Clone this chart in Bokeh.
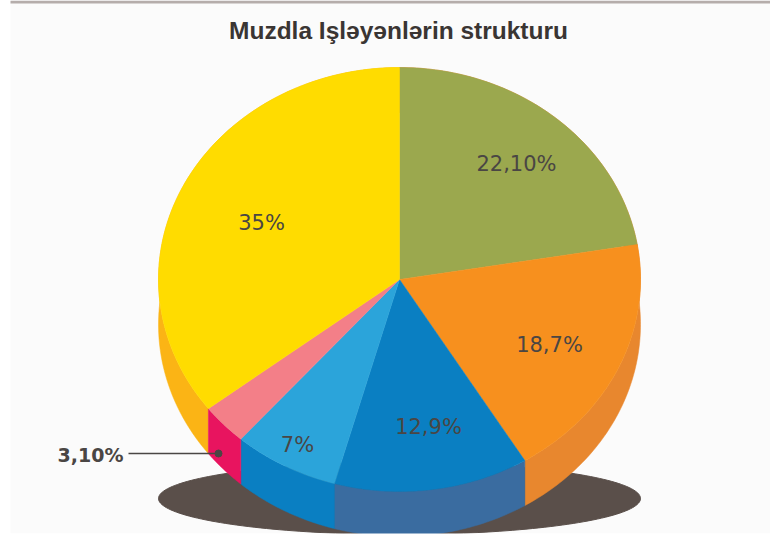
import numpy as np
from bokeh.plotting import figure
from bokeh.models import Range1d
from bokeh.core.properties import value
from bokeh.embed import file_html
from bokeh.resources import INLINE

title = "Muzdla Işləyənlərin strukturu"
shares = [22.1, 18.7, 12.9, 7.0, 3.1, 35.0]
labels = ["22,10%", "18,7%", "12,9%", "7%", "", "35%"]
top_colors = ["#9ba84e", "#f7901e", "#0a7fc2", "#2ba4da", "#f37f88", "#ffdc00"]
side_colors = ["#e8872e", "#e8872e", "#3a6ca0", "#0a7fc2", "#e8145f", "#fbb415"]
outside_label = "3,10%"

# page pixel -> data space (pie top face is the unit circle)
CX, CY, RX, RY = 399.0, 279.0, 241.0, 212.0
DEPTH = 45.0 / RY
X = lambda px: (px - CX) / RX
Y = lambda py: (CY - py) / RY

p = figure(width=770, height=540, output_backend="svg", toolbar_location=None,
           x_range=Range1d(X(0), X(770)), y_range=Range1d(Y(540), Y(0)),
           min_border=0, outline_line_color=None, background_fill_color="#ffffff",
           border_fill_color="#ffffff")
p.axis.visible = False
p.grid.visible = False

# paper tone and the rule along the top edge
p.quad(left=[X(10)], right=[X(770)], bottom=[Y(533)], top=[Y(0)], color="#fbfbfb", line_color=None)
p.quad(left=[X(10)], right=[X(770)], bottom=[Y(3)], top=[Y(0)], color="#b5adab", line_color=None)

# shadow under the pie
t = np.linspace(0, 2 * np.pi, 200)
p.patch(np.sin(t), Y(498) + 36 / RY * np.cos(t), color="#5a4f4a", line_color="#5a4f4a")

fractions = np.array(shares) / sum(shares)
edges = np.concatenate([[0], np.cumsum(fractions)]) * 2 * np.pi


def arc(a, b, n=80):
    t = np.linspace(a, b, n)
    return np.sin(t), np.cos(t)


# side wall
for i in [5, 0, 1, 2, 3, 4]:
    x, y = arc(edges[i], edges[i + 1])
    p.patch(np.r_[x, x[::-1]], np.r_[y, y[::-1] - DEPTH],
            color=side_colors[i], line_color=side_colors[i], line_width=0.5)

# top face
for i in range(len(shares)):
    x, y = arc(edges[i], edges[i + 1])
    p.patch(np.r_[0, x], np.r_[0, y], color=top_colors[i], line_color=top_colors[i], line_width=0.5)

# the picture is cut off flat along its bottom edge
p.quad(left=[X(0)], right=[X(770)], bottom=[Y(540)], top=[Y(533)], color="#ffffff", line_color=None)

# labels
label_px = [(516, 163), (549, 344), (428, 426), (297, 444), None, (261, 222)]
for s, pos in zip(labels, label_px):
    if pos:
        p.text([X(pos[0])], [Y(pos[1])], text=[s], text_align="center", text_baseline="middle",
               text_font=value("DejaVu Sans"), text_font_size="21px", text_color="#4a4644")

p.text([X(398)], [Y(30)], text=[title], text_align="center", text_baseline="middle",
       text_font=value("Liberation Sans"), text_font_style="bold", text_font_size="24.5px",
       text_color="#3a3533")

p.line([X(128), X(218)], [Y(453), Y(453)], line_color="#4a4644", line_width=1.5)
p.scatter([X(218)], [Y(453)], size=7, color="#4a4644")
p.text([X(90)], [Y(454)], text=[outside_label], text_align="center", text_baseline="middle",
       text_font=value("DejaVu Sans"), text_font_style="bold", text_font_size="19px",
       text_color="#4a4644")

open("out.html", "w").write(file_html(p, INLINE))
